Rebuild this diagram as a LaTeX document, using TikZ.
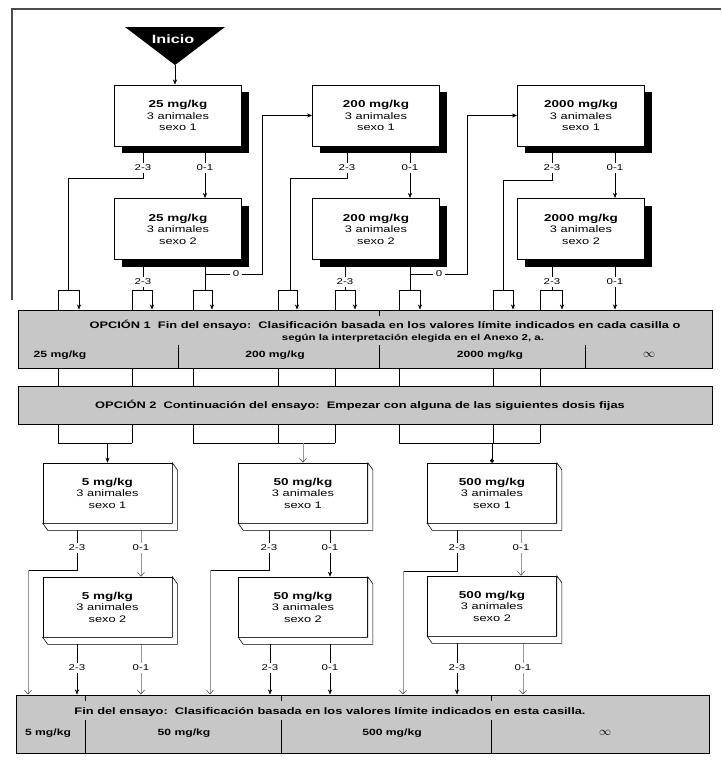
\documentclass[tikz,border=0pt]{standalone}
\usepackage{fontspec}
\setmainfont{Liberation Sans}[FakeStretch=1.35]
\usetikzlibrary{arrows.meta,shadows,backgrounds}

\newcommand{\dosis}[2]{{\fontsize{10}{11.5}\selectfont\bfseries #1}\\3 animales\\sexo #2}

\tikzset{
  caja/.style={draw, line width=1pt, fill=white, minimum width=127pt, minimum height=61pt,
    align=center, font=\fontsize{9.5}{11.5}\selectfont,
    drop shadow={shadow xshift=7pt, shadow yshift=-7pt, fill=black, opacity=1}},
  losa/.style={draw, line width=0.6pt, fill=white, minimum width=129pt, minimum height=60pt,
    align=center, font=\fontsize{9.5}{11.5}\selectfont},
  banda/.style={draw, line width=1pt, fill=black!22},
  tbanda/.style={font=\fontsize{9.5}{11}\selectfont\bfseries, inner sep=0pt},
  etiq/.style={font=\fontsize{8.5}{9}\selectfont, inner sep=2pt},
  flecha/.style={-{Stealth[length=5pt,width=4pt]}},
  tenue/.style={draw=black!40, line width=0.5pt, -{Straight Barb[length=4pt,width=7pt,black!75]}},
}

\begin{document}
\begin{tikzpicture}[x=1pt, y=-1pt, line width=0.7pt]
\useasboundingbox (0,0) rectangle (721,763);

% marco del escaneo
\draw[line width=1.6pt, black!70] (12,300) -- (12,9) -- (721,9);

% inicio
\fill (125,27) -- (225,27) -- (175,65) -- cycle;
\node[text=white, font=\fontsize{12}{12}\selectfont\bfseries] (ini) at (173,39) {Inicio};
\coordinate (inip) at (175,65);

% primer paso
\node[caja] (A1) at (178,115.5) {\dosis{25 mg/kg}{1}};
\node[caja] (B1) at (376,115.5) {\dosis{200 mg/kg}{1}};
\node[caja] (C1) at (581,115.5) {\dosis{2000 mg/kg}{1}};
\node[caja] (A2) at (178,229) {\dosis{25 mg/kg}{2}};
\node[caja] (B2) at (376,229) {\dosis{200 mg/kg}{2}};
\node[caja] (C2) at (581,229) {\dosis{2000 mg/kg}{2}};

\node[etiq] (a23) at (143,168) {2-3};
\node[etiq] (a01) at (205,168) {0-1};
\node[etiq] (b23) at (347,168) {2-3};
\node[etiq] (b01) at (410,168) {0-1};
\node[etiq] (c23) at (552,168) {2-3};
\node[etiq] (c01) at (615,168) {0-1};
\node[etiq] (a223) at (143,282) {2-3};
\node[etiq] (b223) at (345,282) {2-3};
\node[etiq] (c223) at (552,282) {2-3};
\node[etiq] (c201) at (615,282) {0-1};
\node[etiq] (a0) at (236,274) {0};
\node[etiq] (b0) at (439,274) {0};

% opciones
\node[banda, minimum width=694pt, minimum height=58pt] (op1) at (365,339) {};
\node[tbanda] (op1a) at (385,325) {OPCIÓN 1\ \ Fin del ensayo:\ \ Clasificación basada en los valores límite indicados en cada casilla o};
\node[tbanda, font=\fontsize{8.5}{10}\selectfont\bfseries] (op1b) at (413,338) {según la interpretación elegida en el Anexo 2, a.};
\node[tbanda, font=\fontsize{9}{10}\selectfont\bfseries] (k25) at (60,355) {25 mg/kg};
\node[tbanda, font=\fontsize{9}{10}\selectfont\bfseries] (k200) at (275,355) {200 mg/kg};
\node[tbanda, font=\fontsize{9}{10}\selectfont\bfseries] (k2000) at (490,355) {2000 mg/kg};
\node[tbanda, font=\fontsize{12}{12}\selectfont\bfseries] (kinf1) at (649,355) {$\infty$};
\foreach \x in {178,379,585} \draw[line width=1pt] (\x,345) -- (\x,368);
\draw[line width=1pt] (379,310) -- (379,316);

\node[banda, minimum width=694pt, minimum height=38pt] (op2) at (365,405) {};
\node[tbanda] (op2a) at (360,405) {OPCIÓN 2\ \ Continuación del ensayo:\ \ Empezar con alguna de las siguientes dosis fijas};

% segundo paso
\node[losa] (D1) at (107.5,493) {\dosis{5 mg/kg}{1}};
\node[losa] (E1) at (303,493) {\dosis{50 mg/kg}{1}};
\node[losa] (F1) at (492,493) {\dosis{500 mg/kg}{1}};
\node[losa] (D2) at (107.5,607) {\dosis{5 mg/kg}{2}};
\node[losa] (E2) at (303,607) {\dosis{50 mg/kg}{2}};
\node[losa] (F2) at (492,606) {\dosis{500 mg/kg}{2}};
\foreach \b in {D1,E1,F1,D2,E2,F2}
  \draw[line width=0.6pt, fill=white] (\b.north east) -- ++(5,7) -- ([shift={(5,7)}]\b.south east)
    -- ([shift={(5,7)}]\b.south west) -- (\b.south west) -- (\b.south east) -- cycle;

\node[etiq] (d23) at (77,548) {2-3};
\node[etiq] (d01) at (141,548) {0-1};
\node[etiq] (e23) at (269,548) {2-3};
\node[etiq] (e01) at (330,548) {0-1};
\node[etiq] (f23) at (457,548) {2-3};
\node[etiq] (f01) at (521,548) {0-1};
\node[etiq] (d223) at (77,668) {2-3};
\node[etiq] (d201) at (141,668) {0-1};
\node[etiq] (e223) at (270,668) {2-3};
\node[etiq] (e201) at (330,668) {0-1};
\node[etiq] (f223) at (457,668) {2-3};
\node[etiq] (f201) at (523,668) {0-1};

% fin
\node[banda, minimum width=693pt, minimum height=58pt] (fin) at (362.5,724) {};
\node[tbanda] (fina) at (330,712) {Fin del ensayo:\ \ Clasificación basada en los valores límite indicados en esta casilla.};
\node[tbanda, font=\fontsize{9}{10}\selectfont\bfseries] (k5) at (48,733) {5 mg/kg};
\node[tbanda, font=\fontsize{9}{10}\selectfont\bfseries] (k50) at (184,733) {50 mg/kg};
\node[tbanda, font=\fontsize{9}{10}\selectfont\bfseries] (k500) at (392,733) {500 mg/kg};
\node[tbanda, font=\fontsize{12}{12}\selectfont\bfseries] (kinf2) at (605,733) {$\infty$};
\foreach \x in {85,281,491} {
  \draw[line width=1pt] (\x,720) -- (\x,753);
  \draw[line width=1pt] (\x,695) -- (\x,701);
}

\begin{scope}[on background layer]
% arriba
\draw[flecha] (inip) -- (inip |- A1.north);
\draw (a23 |- A1.south) -- (a23);
\draw (a23) -- (143,178) -| (68,290);
\draw (a01 |- A1.south) -- (a01);
\draw[flecha] (a01) -- (a01 |- A2.north);
\draw (a223 |- A2.south) -- (a223) -- (143,290);
\draw (205,0 |- A2.south) -- (205,290);
\draw (205,274) -- (a0);
\draw[flecha] (a0) -- (262,274) |- (B1.west);

\draw (b23 |- B1.south) -- (b23);
\draw (b23) -- (347,178) -| (290,290);
\draw (b01 |- B1.south) -- (b01);
\draw[flecha] (b01) -- (b01 |- B2.north);
\draw (b223 |- B2.south) -- (b223) -- (345,290);
\draw (410,0 |- B2.south) -- (410,290);
\draw (410,274) -- (b0);
\draw[flecha] (b0) -- (467,274) |- (C1.west);

\draw (c23 |- C1.south) -- (c23);
\draw (c23) -- (552,180) -| (503,290);
\draw (c01 |- C1.south) -- (c01);
\draw[flecha] (c01) -- (c01 |- C2.north);
\draw (c223 |- C2.south) -- (c223) -- (552,290);
\draw (c201 |- C2.south) -- (c201);
\draw[flecha] (c201) -- (c201 |- op1.north);

% horquillas hacia las opciones
\foreach \l/\r in {58/79, 132/152, 193/212, 278/297, 335/355, 399/420, 493/513, 540/562} {
  \draw (\l,443) -- (\l,290) -- (\r,290);
  \draw[flecha] (\r,290) -- (\r,0 |- op1.north);
}
\draw (58,443) -- (132,443);
\draw (193,443) -- (335,443);
\draw (399,443) -- (540,443);
\draw[flecha] (D1.north |- 0,443) -- (D1.north);
\draw[tenue] (E1.north |- 0,443) -- (E1.north);
\draw[-{Circle[length=4pt]}] (F1.north |- 0,443) -- (F1.north);

% abajo
\draw (d23 |- D1.south) -- (d23);
\draw (d23) -- (77,570) -- (28,570);
\draw[tenue] (28,570) -- (28,0 |- fin.north);
\draw[black!40] (d01 |- D1.south) -- (d01);
\draw[tenue] (d01) -- (d01 |- D2.north);
\draw (e23 |- E1.south) -- (e23);
\draw (e23) -- (269,570) -- (210,570);
\draw[tenue] (210,570) -- (210,0 |- fin.north);
\draw (e01 |- E1.south) -- (e01);
\draw[flecha] (e01) -- (e01 |- E2.north);
\draw (f23 |- F1.south) -- (f23);
\draw (f23) -- (457,571) -- (403,571);
\draw[tenue] (403,571) -- (403,0 |- fin.north);
\draw[black!40] (f01 |- F1.south) -- (f01);
\draw[tenue] (f01) -- (f01 |- F2.north);

\draw (d223 |- D2.south) -- (d223);
\draw[flecha] (d223) -- (d223 |- fin.north);
\draw[black!40] (d201 |- D2.south) -- (d201);
\draw[tenue] (d201) -- (d201 |- fin.north);
\draw (e223 |- E2.south) -- (e223);
\draw[flecha] (e223) -- (e223 |- fin.north);
\draw (e201 |- E2.south) -- (e201);
\draw[flecha] (e201) -- (e201 |- fin.north);
\draw (f223 |- F2.south) -- (f223);
\draw[flecha] (f223) -- (f223 |- fin.north);
\draw[black!40] (f201 |- F2.south) -- (f201);
\draw[tenue] (f201) -- (f201 |- fin.north);
\end{scope}
\end{tikzpicture}
\end{document}
